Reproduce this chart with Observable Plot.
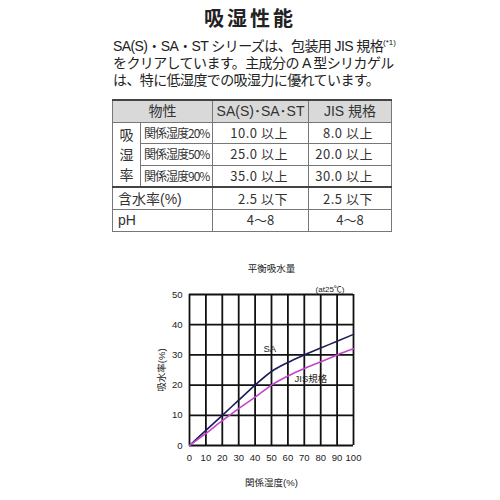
<!DOCTYPE html>
<html><head><meta charset="utf-8">
<script src="https://cdn.jsdelivr.net/npm/d3@7"></script>
<script src="https://cdn.jsdelivr.net/npm/@observablehq/plot@0.6"></script>
<style>
body{margin:0;background:#fff;width:500px;height:500px;position:relative;overflow:hidden;font-family:"Liberation Sans","Noto Sans CJK JP",sans-serif;color:#222}
#title{position:absolute;left:0;width:500px;top:7px;text-align:center;font:bold 20px/22px "Noto Sans CJK JP";letter-spacing:3px;color:#222}
#para{position:absolute;left:113px;top:34px;font-size:14px;line-height:17px;letter-spacing:-0.6px;white-space:nowrap;font-family:"Liberation Sans","Noto Sans CJK JP",sans-serif}
#para sup{font-size:8px;vertical-align:6px;letter-spacing:0}
table{position:absolute;left:112px;top:99px;border-collapse:collapse;font-family:"Noto Sans CJK JP";font-size:13px;color:#333}
td{border:1px solid #777;height:20.6px;padding:0;line-height:14px}
table{border-top:2px solid #444;border-right:1.5px solid #444;border-bottom:1.5px solid #444;border-left:1.5px solid #444}
.hd td{background:#d9d9d9;text-align:center;font-family:"Liberation Sans","Noto Sans CJK JP";font-size:14px}
.num{text-align:right;padding-right:20px;letter-spacing:0.5px}
.numj{text-align:right;padding-right:18px;letter-spacing:0.5px}
.ctr{text-align:center}
.sub{font-size:12px;letter-spacing:-1px;padding-left:3px}
.vert{text-align:center;font-size:14px;line-height:20px}
.lab{padding-left:5px;font-size:14px;font-family:"Liberation Sans","Noto Sans CJK JP"}
#chart{position:absolute;left:0;top:240px}
</style></head>
<body>
<div id="title"></div>
<div id="para"></div>
<table id="tbl"></table>
<div id="chart"></div>
<script>
// ---- text data ----
const pageTitle = "吸湿性能";
const paraLines = ["SA(S)・SA・ST シリーズは、包装用 JIS 規格", "をクリアしています。主成分の A 型シリカゲル", "は、特に低湿度での吸湿力に優れています。"];
const footnoteMark = "(*1)";

// ---- table data ----
const tableHeader = ["物性", "SA(S)･SA･ST", "JIS 規格"];
const groupLabel = ["吸", "湿", "率"];
const rhLabels = ["関係湿度20%", "関係湿度50%", "関係湿度90%"];
const otherLabels = ["含水率(%)", "pH"];
const saSpec = ["10.0 以上", "25.0 以上", "35.0 以上", "2.5 以下", "4〜8"];
const jisSpec = ["8.0 以上", "20.0 以上", "30.0 以上", "2.5 以下", "4〜8"];

// ---- chart data ----
const chartTitle = "平衡吸水量";
const tempNote = "(at25℃)";
const rh = [0, 10, 20, 30, 40, 50, 60, 70, 80, 90, 100];
const saValues = [0, 5, 10, 15, 20, 24.5, 27.5, 30, 32.3, 34.5, 36.8];
const jisValues = [0, 4, 8.2, 12.2, 16, 20, 23, 25.5, 27.7, 30, 32];
const seriesNames = ["SA", "JIS規格"];
const labelX = [49, 74];
const labelY = [32, 22];
const xTicks = [0, 10, 20, 30, 40, 50, 60, 70, 80, 90, 100];
const yTicks = [0, 10, 20, 30, 40, 50];
const xLabel = "関係湿度(%)";
const yLabel = "吸水率(%)";

document.getElementById("title").textContent = pageTitle;
const para = document.getElementById("para");
paraLines.forEach((l, i) => {
  const d = document.createElement("div");
  d.textContent = l;
  if (i === 0) { const s = document.createElement("sup"); s.textContent = footnoteMark; d.appendChild(s); }
  para.appendChild(d);
});

// build table
const tbl = document.getElementById("tbl");
const widths = [28, 72, 96, 83];
let cg = "<colgroup>" + widths.map(w => `<col style="width:${w}px">`).join("") + "</colgroup>";
let html = cg + `<tr class="hd"><td colspan="2">${tableHeader[0]}</td><td>${tableHeader[1]}</td><td>${tableHeader[2]}</td></tr>`;
rhLabels.forEach((lab, i) => {
  html += "<tr>";
  if (i === 0) html += `<td rowspan="3" class="vert">${groupLabel.join("<br>")}</td>`;
  html += `<td class="sub">${lab}</td><td class="num">${saSpec[i]}</td><td class="numj">${jisSpec[i]}</td></tr>`;
});
otherLabels.forEach((lab, j) => {
  const i = j + 3;
  const cls = j === 1 ? "ctr" : "num";
  const clsj = j === 1 ? "ctr" : "numj";
  html += `<tr><td colspan="2" class="lab">${lab}</td><td class="${cls}">${saSpec[i]}</td><td class="${clsj}">${jisSpec[i]}</td></tr>`;
});
tbl.innerHTML = html;
tbl.rows[4].style.borderTop = "2px solid #444";

// chart
const data = [
  ...rh.map((x, i) => ({x, y: saValues[i], s: seriesNames[0]})),
  ...rh.map((x, i) => ({x, y: jisValues[i], s: seriesNames[1]}))
];
const labels = seriesNames.map((n, i) => ({n, x: labelX[i], y: labelY[i]}));
const chart = Plot.plot({
  width: 500, height: 260,
  marginLeft: 189, marginRight: 147, marginTop: 54, marginBottom: 55,
  style: {fontFamily: "Liberation Sans, Noto Sans CJK JP, sans-serif", fontSize: "9.5px", color: "#222"},
  x: {domain: [0, 100]},
  y: {domain: [0, 50]},
  color: {domain: seriesNames, range: ["#1c1c5c", "#c444cc"]},
  marks: [
    Plot.ruleX(xTicks, {stroke: "#111", strokeWidth: 1.8}),
    Plot.ruleY(yTicks, {stroke: "#111", strokeWidth: 1.8}),
    Plot.line(data, {x: "x", y: "y", stroke: "s", z: "s", strokeWidth: 1.6, curve: "monotone-x"}),
    Plot.text(labels, {x: "x", y: "y", text: "n", fontSize: 9.5, fill: "#222"}),
    Plot.axisX(xTicks, {tickSize: 0, tickPadding: 9, fontSize: 9.5, label: xLabel, labelAnchor: "center", labelArrow: "none", labelOffset: 40, fill: "#222"}),
    Plot.axisY(yTicks, {tickSize: 0, tickPadding: 7, fontSize: 9.5, label: yLabel, labelAnchor: "center", labelArrow: "none", labelOffset: 31, fill: "#222"}),
    Plot.text([chartTitle], {frameAnchor: "top", dy: -29, fontSize: 9.5, fill: "#222"}),
    Plot.text([tempNote], {frameAnchor: "top-right", textAnchor: "end", dx: -9, dy: -8, fontSize: 8, fill: "#222"})
  ]
});
document.getElementById("chart").appendChild(chart);
</script>
</body></html>
